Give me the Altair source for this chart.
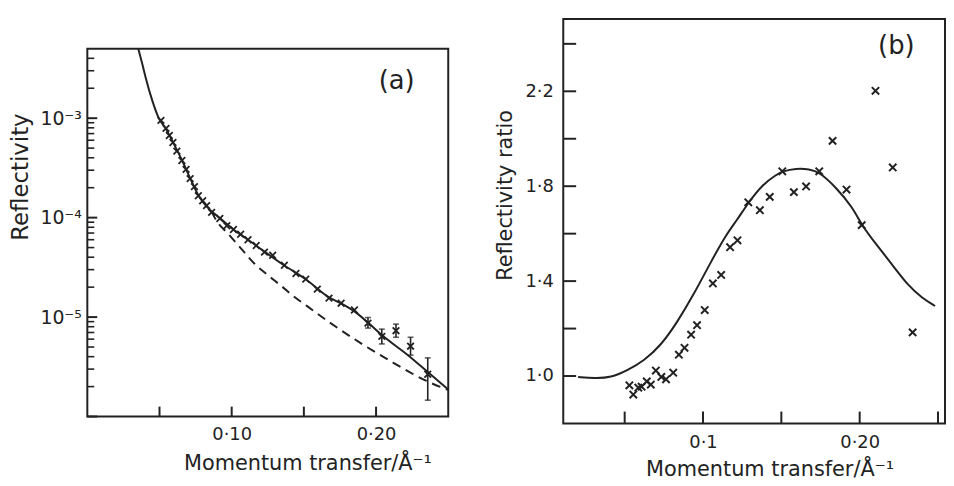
import altair as alt
import pandas as pd

FONT = "DejaVu Sans"
INK = "#222222"
XSHAPE = "M -1 -1 L 1 1 M -1 1 L 1 -1"

# ---------------- panel (a): reflectivity ----------------
a_data_q = [0.0510, 0.0545, 0.0568, 0.0593, 0.0620, 0.0655, 0.0684, 0.0712, 0.0742, 0.0769,
            0.0799, 0.0826, 0.0861, 0.0918, 0.0966, 0.1012, 0.1062, 0.1113, 0.1170, 0.1227,
            0.1284, 0.1365, 0.1445, 0.1513, 0.1593, 0.1674, 0.1758, 0.1850, 0.1944, 0.2040,
            0.2138, 0.2239, 0.2358]
a_data_r = [9.5e-4, 7.9e-4, 6.7e-4, 5.7e-4, 4.66e-4, 3.76e-4, 3.06e-4, 2.47e-4, 2.05e-4, 1.66e-4,
            1.48e-4, 1.32e-4, 1.13e-4, 9.8e-5, 8.3e-5, 7.6e-5, 6.8e-5, 6.0e-5, 5.25e-5, 4.5e-5,
            4.18e-5, 3.32e-5, 2.74e-5, 2.41e-5, 1.91e-5, 1.55e-5, 1.38e-5, 1.18e-5, 8.7e-6, 6.4e-6,
            7.3e-6, 5.1e-6, 2.66e-6]

a_err_q = [0.1944, 0.2040, 0.2138, 0.2239, 0.2358]
a_err_lo = [7.75e-6, 5.37e-6, 6.27e-6, 4.14e-6, 1.46e-6]
a_err_hi = [9.9e-6, 7.57e-6, 8.5e-6, 6.27e-6, 3.89e-6]

a_fit_q = [0.0353, 0.0380, 0.0403, 0.0449, 0.0495, 0.0545, 0.0593, 0.0655, 0.0712, 0.0769,
           0.0826, 0.0918, 0.1012, 0.1113, 0.1227, 0.1365, 0.1513, 0.1674, 0.1758, 0.1850,
           0.1944, 0.2040, 0.2234, 0.2358, 0.2498]
a_fit_r = [5.0e-3, 3.55e-3, 2.6e-3, 1.52e-3, 1.0e-3, 7.8e-4, 5.75e-4, 3.8e-4, 2.5e-4, 1.68e-4,
           1.3e-4, 9.9e-5, 7.6e-5, 6.0e-5, 4.55e-5, 3.3e-5, 2.4e-5, 1.58e-5, 1.37e-5, 1.14e-5,
           8.8e-6, 6.6e-6, 4.0e-6, 2.8e-6, 1.88e-6]

a_dash_q = [0.0860, 0.0895, 0.0975, 0.1067, 0.1158, 0.1250, 0.1341, 0.1433, 0.1525, 0.1685,
            0.1891, 0.2120, 0.2349, 0.2498]
a_dash_r = [1.15e-4, 9.3e-5, 6.9e-5, 4.86e-5, 3.44e-5, 2.64e-5, 2.07e-5, 1.60e-5, 1.28e-5, 8.7e-6,
            5.5e-6, 3.47e-6, 2.28e-6, 1.85e-6]

a_xtick_vals = [0.05, 0.10, 0.15, 0.20]
a_xlabel_vals = [0.10, 0.20]
a_xlabel_text = ["0·10", "0·20"]
a_ymajor_vals = [1e-6, 1e-5, 1e-4, 1e-3]
a_yminor_vals = [m * d for d in [1e-6, 1e-5, 1e-4, 1e-3] for m in range(2, 10) if m * d < 5e-3]
a_ylabel_vals = [1e-5, 1e-4, 1e-3]
a_ylabel_exp = [-5, -4, -3]
a_ylabel_text = ["10⁻⁵", "10⁻⁴", "10⁻³"]
a_tag = ["(a)"]
a_tag_q = [0.2143]
a_tag_r = [2.37e-3]

# ---------------- panel (b): reflectivity ratio ----------------
b_data_q = [0.0530, 0.0555, 0.0587, 0.0608, 0.0641, 0.0667, 0.0699, 0.0734, 0.0764, 0.0810,
            0.0846, 0.0882, 0.0924, 0.0962, 0.1011, 0.1063, 0.1116, 0.1173, 0.1220, 0.1289,
            0.1363, 0.1426, 0.1506, 0.1580, 0.1658, 0.1742, 0.1827, 0.1916, 0.2013, 0.2101,
            0.2211, 0.2338]
b_data_ratio = [0.961, 0.922, 0.951, 0.955, 0.977, 0.964, 1.023, 0.996, 0.986, 1.014,
                1.090, 1.119, 1.174, 1.214, 1.278, 1.390, 1.426, 1.543, 1.572, 1.732,
                1.699, 1.755, 1.863, 1.775, 1.799, 1.863, 1.991, 1.786, 1.636, 2.202,
                1.879, 1.184]

b_fit_q = [0.0203, 0.0308, 0.0413, 0.0519, 0.0624, 0.0730, 0.0835, 0.0941, 0.1046, 0.1152,
           0.1215, 0.1289, 0.1384, 0.1468, 0.1506, 0.1595, 0.1679, 0.1742, 0.1848, 0.1954,
           0.2013, 0.2101, 0.2207, 0.2312, 0.2397, 0.2481]
b_fit_ratio = [0.996, 0.990, 0.993, 1.024, 1.065, 1.128, 1.226, 1.344, 1.476, 1.601,
               1.655, 1.731, 1.810, 1.848, 1.863, 1.875, 1.872, 1.860, 1.796, 1.712,
               1.636, 1.559, 1.470, 1.379, 1.330, 1.295]

b_xtick_vals = [0.05, 0.10, 0.15, 0.20, 0.25]
b_xlabel_vals = [0.10, 0.20]
b_xlabel_text = ["0·1", "0·20"]
b_ytick_vals = [1.0, 1.2, 1.4, 1.6, 1.8, 2.0, 2.2, 2.4]
b_ylabel_vals = [1.0, 1.4, 1.8, 2.2]
b_ylabel_text = ["1·0", "1·4", "1·8", "2·2"]
b_tag = ["(b)"]
b_tag_q = [0.2234]
b_tag_ratio = [2.392]

X_TITLE = "Momentum transfer/Å⁻¹"


def label_expr(vals, texts):
    parts = [f"abs(datum.value - {v}) < 1e-6 ? '{t}'" for v, t in zip(vals, texts)]
    return " : ".join(parts) + " : ''"


def log_label_expr(exps, texts):
    parts = [f"round(log(datum.value) / LN10) == {e} ? '{t}'" for e, t in zip(exps, texts)]
    return " : ".join(parts) + " : ''"


# ---------------- build panel (a) ----------------
W_A, H_A = 364, 371
xa = alt.Scale(domain=[0, 0.25], nice=False, zero=False)
ya = alt.Scale(type="log", domain=[1e-6, 5e-3], nice=False)

xa_axis = alt.Axis(values=a_xlabel_vals, labelExpr=label_expr(a_xlabel_vals, a_xlabel_text),
                   ticks=False, domain=False, grid=False, labelPadding=9, labelFontSize=18,
                   title=X_TITLE, titleFontSize=21, titleX=222, titleY=47, titleBaseline="middle")
ya_axis = alt.Axis(values=a_ylabel_vals, labelExpr=log_label_expr(a_ylabel_exp, a_ylabel_text),
                   ticks=False, domain=False, grid=False, labelPadding=6, labelFontSize=19,
                   title="Reflectivity", titleFontSize=23, titleX=-67, titleY=129,
                   titleBaseline="middle")


def XA(f):
    return alt.X(f, scale=xa, axis=xa_axis)


def YA(f):
    return alt.Y(f, scale=ya, axis=ya_axis)


fit_a = alt.Chart(pd.DataFrame({"q": a_fit_q, "r": a_fit_r})).mark_line(
    color=INK, strokeWidth=2, clip=True, interpolate="monotone").encode(
    x=XA("q:Q"), y=YA("r:Q"))

dash_a = alt.Chart(pd.DataFrame({"q": a_dash_q, "r": a_dash_r})).mark_line(
    color=INK, strokeWidth=2, strokeDash=[9, 6], clip=True, interpolate="monotone").encode(
    x=XA("q:Q"), y=YA("r:Q"))

err_df = pd.DataFrame({"q": a_err_q, "lo": a_err_lo, "hi": a_err_hi})
err_rule = alt.Chart(err_df).mark_rule(color=INK, strokeWidth=1.6).encode(
    x=XA("q:Q"), y=YA("lo:Q"), y2="hi:Q")
cap_lo = alt.Chart(err_df).mark_tick(orient="horizontal", size=6, thickness=1.6, color=INK).encode(
    x=XA("q:Q"), y=YA("lo:Q"))
cap_hi = alt.Chart(err_df).mark_tick(orient="horizontal", size=6, thickness=1.6, color=INK).encode(
    x=XA("q:Q"), y=YA("hi:Q"))

pts_a = alt.Chart(pd.DataFrame({"q": a_data_q, "r": a_data_r})).mark_point(
    shape=XSHAPE, size=45, strokeWidth=1.8, filled=False, color=INK, opacity=1).encode(
    x=XA("q:Q"), y=YA("r:Q"))

xt_a = alt.Chart(pd.DataFrame({"q": a_xtick_vals})).mark_rule(color=INK, strokeWidth=2).encode(
    x=XA("q:Q"), y=alt.value(H_A), y2=alt.value(H_A - 10))
ymaj_a = alt.Chart(pd.DataFrame({"r": a_ymajor_vals})).mark_rule(color=INK, strokeWidth=2).encode(
    y=YA("r:Q"), x=alt.value(0), x2=alt.value(10))
ymin_a = alt.Chart(pd.DataFrame({"r": a_yminor_vals})).mark_rule(color=INK, strokeWidth=1.6).encode(
    y=YA("r:Q"), x=alt.value(0), x2=alt.value(7))

tag_a = alt.Chart(pd.DataFrame({"q": a_tag_q, "r": a_tag_r, "t": a_tag})).mark_text(
    font=FONT, fontSize=26, color=INK).encode(x=XA("q:Q"), y=YA("r:Q"), text="t:N")

panel_a = alt.layer(fit_a, dash_a, err_rule, cap_lo, cap_hi, pts_a, xt_a, ymaj_a, ymin_a, tag_a
                    ).properties(width=W_A, height=H_A)

spacer = alt.Chart(pd.DataFrame({"s": [0]})).mark_point(opacity=0).encode(
    x=alt.value(0), y=alt.value(0)).properties(
    width=W_A, height=28, view=alt.ViewBackground(stroke="transparent"))

left = alt.vconcat(spacer, panel_a, spacing=0)

# ---------------- build panel (b) ----------------
W_B, H_B = 385, 408
xb = alt.Scale(domain=[0.0108, 0.0108 + W_B / 1580], nice=False, zero=False)
yb = alt.Scale(domain=[0.8, 2.505], nice=False, zero=False)

xb_axis = alt.Axis(values=b_xlabel_vals, labelExpr=label_expr(b_xlabel_vals, b_xlabel_text),
                   ticks=False, domain=False, grid=False, labelPadding=10, labelFontSize=18,
                   title=X_TITLE, titleFontSize=21, titleX=208, titleY=46, titleBaseline="middle")
yb_axis = alt.Axis(values=b_ylabel_vals, labelExpr=label_expr(b_ylabel_vals, b_ylabel_text),
                   ticks=False, domain=False, grid=False, labelPadding=10, labelFontSize=18,
                   title="Reflectivity ratio", titleFontSize=21, titleX=-58.5, titleY=177.5,
                   titleBaseline="middle")


def XB(f):
    return alt.X(f, scale=xb, axis=xb_axis)


def YB(f):
    return alt.Y(f, scale=yb, axis=yb_axis)


fit_b = alt.Chart(pd.DataFrame({"q": b_fit_q, "ratio": b_fit_ratio})).mark_line(
    color=INK, strokeWidth=2, clip=True, interpolate="basis").encode(
    x=XB("q:Q"), y=YB("ratio:Q"))

pts_b = alt.Chart(pd.DataFrame({"q": b_data_q, "ratio": b_data_ratio})).mark_point(
    shape=XSHAPE, size=55, strokeWidth=2, filled=False, color=INK, opacity=1).encode(
    x=XB("q:Q"), y=YB("ratio:Q"))

xt_b = alt.Chart(pd.DataFrame({"q": b_xtick_vals})).mark_rule(color=INK, strokeWidth=2).encode(
    x=XB("q:Q"), y=alt.value(H_B), y2=alt.value(H_B - 12))
yt_b = alt.Chart(pd.DataFrame({"ratio": b_ytick_vals})).mark_rule(color=INK, strokeWidth=2).encode(
    y=YB("ratio:Q"), x=alt.value(0), x2=alt.value(13))

tag_b = alt.Chart(pd.DataFrame({"q": b_tag_q, "ratio": b_tag_ratio, "t": b_tag})).mark_text(
    font=FONT, fontSize=26, color=INK).encode(x=XB("q:Q"), y=YB("ratio:Q"), text="t:N")

panel_b = alt.layer(fit_b, pts_b, xt_b, yt_b, tag_b).properties(width=W_B, height=H_B)

chart = alt.hconcat(left, panel_b, spacing=44).properties(
    padding={"left": 0, "top": 5, "right": 0, "bottom": 0},
    background="white",
).configure_view(
    stroke=INK, strokeWidth=2
).configure_axis(
    labelFont=FONT, titleFont=FONT, labelColor=INK, titleColor=INK, titleFontWeight="normal"
)

chart.save("out.html", embed_options={"renderer": "svg", "actions": False})
